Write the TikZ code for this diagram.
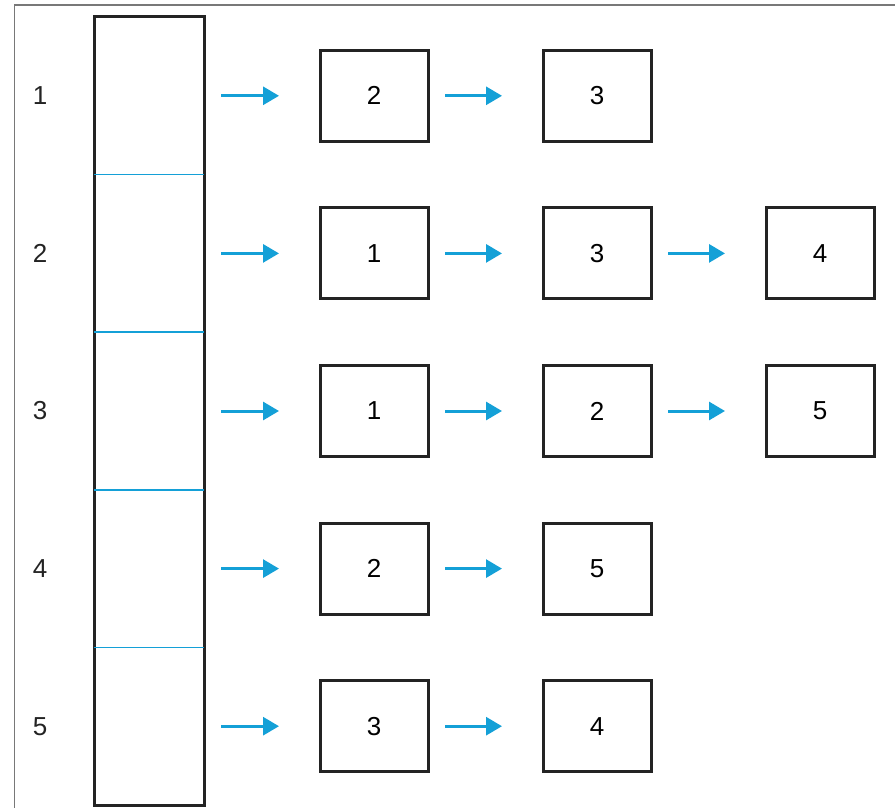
\documentclass[tikz,border=0pt]{standalone}
\usepackage{fontspec}
\setmainfont{Liberation Sans}
\usetikzlibrary{arrows.meta, positioning, fit}
\definecolor{myblue}{RGB}{20,160,215}
\definecolor{mydark}{RGB}{35,35,35}
\definecolor{mygray}{RGB}{120,120,120}
\tikzset{
  cell/.style={rectangle, minimum width=110pt, minimum height=157.6pt,
    inner sep=0pt, outer sep=0pt},
  box/.style={rectangle, draw=mydark, line width=3pt, fill=white,
    minimum width=108pt, minimum height=91pt, inner sep=0pt, outer sep=0pt,
    font=\fontsize{26}{30}\selectfont},
  lbl/.style={font=\fontsize{26}{30}\selectfont, text=mydark},
  arrow/.style={-{Triangle[length=16pt,width=18pt]}, line width=3pt, color=myblue,
    shorten <=17pt, shorten >=41pt},
  divider/.style={line width=1.5pt, color=myblue},
  frame/.style={line width=1.5pt, color=mygray}
}
\begin{document}
\begin{tikzpicture}[x=1pt, y=1pt]
  \useasboundingbox (0,0) rectangle (895,-808);
  \draw[frame] (14.5,-808) -- (14.5,-5) -- (895,-5);

  % Table column
  \node[cell] (cell1) at (149,-95.8) {};
  \node[cell, below=0pt of cell1] (cell2) {};
  \node[cell, below=0pt of cell2] (cell3) {};
  \node[cell, below=0pt of cell3] (cell4) {};
  \node[cell, below=0pt of cell4] (cell5) {};
  \node[draw=mydark, line width=3pt, inner sep=0pt, fit=(cell1)(cell5)] (col) {};
  \draw[divider] (cell1.south west) -- (cell1.south east);
  \draw[divider] (cell2.south west) -- (cell2.south east);
  \draw[divider] (cell3.south west) -- (cell3.south east);
  \draw[divider] (cell4.south west) -- (cell4.south east);

  % Row labels
  \node[lbl] (n1) at ([xshift=-54pt]cell1.west) {1};
  \node[lbl] (n2) at ([xshift=-54pt]cell2.west) {2};
  \node[lbl] (n3) at ([xshift=-54pt]cell3.west) {3};
  \node[lbl] (n4) at ([xshift=-54pt]cell4.west) {4};
  \node[lbl] (n5) at ([xshift=-54pt]cell5.west) {5};

  % Lists
  \node[box, right=116pt of cell1] (a1) {2};
  \node[box, right=115pt of a1] (a2) {3};

  \node[box, right=116pt of cell2] (b1) {1};
  \node[box, right=115pt of b1] (b2) {3};
  \node[box, right=115pt of b2] (b3) {4};

  \node[box, right=116pt of cell3] (c1) {1};
  \node[box, right=115pt of c1] (c2) {2};
  \node[box, right=115pt of c2] (c3) {5};

  \node[box, right=116pt of cell4] (d1) {2};
  \node[box, right=115pt of d1] (d2) {5};

  \node[box, right=116pt of cell5] (e1) {3};
  \node[box, right=115pt of e1] (e2) {4};

  % Pointers
  \draw[arrow] (cell1.east) -- (a1.west);
  \draw[arrow] (a1.east) -- (a2.west);
  \draw[arrow] (cell2.east) -- (b1.west);
  \draw[arrow] (b1.east) -- (b2.west);
  \draw[arrow] (b2.east) -- (b3.west);
  \draw[arrow] (cell3.east) -- (c1.west);
  \draw[arrow] (c1.east) -- (c2.west);
  \draw[arrow] (c2.east) -- (c3.west);
  \draw[arrow] (cell4.east) -- (d1.west);
  \draw[arrow] (d1.east) -- (d2.west);
  \draw[arrow] (cell5.east) -- (e1.west);
  \draw[arrow] (e1.east) -- (e2.west);
\end{tikzpicture}
\end{document}
